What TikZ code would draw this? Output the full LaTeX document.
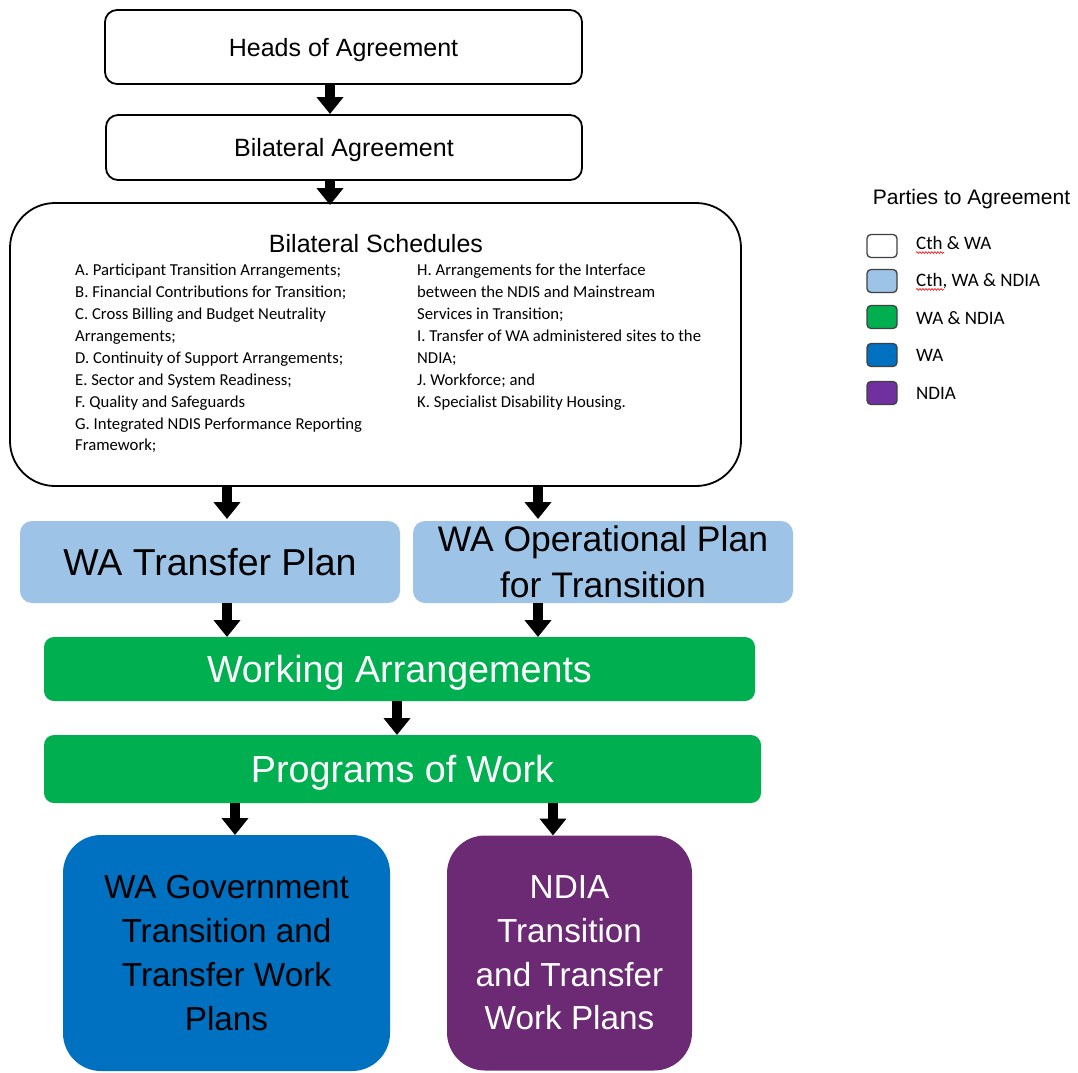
\documentclass[tikz,border=0pt]{standalone}
\usepackage{fontspec}
\setmainfont{Liberation Sans}
\newfontfamily\calibrifont{Carlito}
\usetikzlibrary{arrows.meta,decorations.pathmorphing}

\definecolor{planblue}{HTML}{9DC3E6}
\definecolor{workgreen}{HTML}{00B050}
\definecolor{wablue}{HTML}{0070C0}
\definecolor{ndiapurple}{HTML}{7030A0}
\definecolor{ndiabox}{HTML}{6C2A75}

\tikzset{
  outlinebox/.style={draw=black, line width=1.8pt, fill=white, rounded corners=12pt,
    inner sep=0pt, outer sep=0pt},
  plainbox/.style={draw=none, rounded corners=12pt, inner sep=0pt, outer sep=0pt, align=center},
  oneline/.style={text depth=0pt},
  flowarrow/.style={line width=9.5pt, -{Triangle[width=26pt,length=17pt]}},
  swatch/.style={draw=black!75, line width=1.3pt, rounded corners=4pt,
    minimum width=30pt, minimum height=23pt, inner sep=0pt},
  swatchlabel/.style={anchor=west, inner sep=0pt, font=\calibrifont\fontsize{19}{22}\selectfont},
  listtext/.style={anchor=north west, inner sep=0pt, align=left,
    font=\calibrifont\fontsize{16.7}{21.9}\selectfont},
  spellmark/.style={draw=red, line width=0.6pt, decorate,
    decoration={snake, amplitude=0.9pt, segment length=3pt}}
}

\begin{document}
\begin{tikzpicture}[x=1pt, y=-1pt]
\useasboundingbox (0,0) rectangle (1078,1072);

% agreements
\node[outlinebox, oneline, minimum width=477pt, minimum height=74pt,
  font=\fontsize{25}{30}\selectfont] (heads) at (343.5,47) {Heads of Agreement};
\node[outlinebox, oneline, minimum width=476pt, minimum height=65pt,
  font=\fontsize{25}{30}\selectfont] (bilat) at (344,147.5) {Bilateral Agreement};

% schedules
\node[outlinebox, rounded corners=45pt, minimum width=731pt, minimum height=283pt]
  (sched) at (375.5,344.5) {};
\node[font=\fontsize{25}{30}\selectfont, inner sep=0pt] (schedtitle) at (376,244)
  {Bilateral Schedules};
\node[listtext] (listleft) at (75,264) {%
A. Participant Transition Arrangements;\\
B. Financial Contributions for Transition;\\
C. Cross Billing and Budget Neutrality\\
Arrangements;\\
D. Continuity of Support Arrangements;\\
E. Sector and System Readiness;\\
F. Quality and Safeguards\\
G. Integrated NDIS Performance Reporting\\
Framework;};
\node[listtext] (listright) at (417,264) {%
H. Arrangements for the Interface\\
between the NDIS and Mainstream\\
Services in Transition;\\
I. Transfer of WA administered sites to the\\
NDIA;\\
J. Workforce; and\\
K. Specialist Disability Housing.};

% plans
\node[plainbox, oneline, fill=planblue, minimum width=380pt, minimum height=82pt,
  font=\fontsize{37.5}{46}\selectfont] (transfer) at (210,562) {WA Transfer Plan};
\node[plainbox, fill=planblue, minimum width=380pt, minimum height=82pt,
  font=\fontsize{35.5}{46}\selectfont] (oper) at (603,562)
  {WA Operational Plan\\for Transition};

% working arrangements and programs
\node[plainbox, oneline, fill=workgreen, rounded corners=10pt, minimum width=711pt,
  minimum height=64pt, text=white, font=\fontsize{37.7}{46}\selectfont] (working)
  at (399.5,669) {Working Arrangements};
\node[plainbox, oneline, fill=workgreen, rounded corners=10pt, minimum width=717pt,
  minimum height=68pt, text=white, font=\fontsize{37.7}{46}\selectfont] (programs)
  at (402.5,769) {Programs of Work};

% work plans
\node[plainbox, fill=wablue, rounded corners=38pt, minimum width=327pt, minimum height=236pt,
  font=\fontsize{33.3}{43.7}\selectfont] (wagov) at (226.5,953)
  {WA Government\\Transition and\\Transfer Work\\Plans};
\node[plainbox, fill=ndiabox, rounded corners=38pt, minimum width=245pt, minimum height=235pt,
  text=white, font=\fontsize{33.3}{43.7}\selectfont] (ndia) at (569.5,953)
  {NDIA\\Transition\\and Transfer\\Work Plans};

% arrow columns
\coordinate (ax1) at (330,0);
\coordinate (ax2) at (227,0);
\coordinate (ax3) at (538,0);
\coordinate (ax4) at (397,0);
\coordinate (ax5) at (235,0);
\coordinate (ax6) at (553,0);

\draw[flowarrow] ([yshift=-1pt]heads.south -| ax1) -- ([yshift=1pt]bilat.north -| ax1);
\draw[flowarrow] ([yshift=-1pt]bilat.south -| ax1) -- ([yshift=-2pt]sched.north -| ax1);
\draw[flowarrow] ([yshift=-1pt]sched.south -| ax2) -- ([yshift=2pt]transfer.north -| ax2);
\draw[flowarrow] ([yshift=-1pt]sched.south -| ax3) -- ([yshift=2pt]oper.north -| ax3);
\draw[flowarrow] (transfer.south -| ax2) -- (working.north -| ax2);
\draw[flowarrow] (oper.south -| ax3) -- (working.north -| ax3);
\draw[flowarrow] (working.south -| ax4) -- (programs.north -| ax4);
\draw[flowarrow] (programs.south -| ax5) -- (wagov.north -| ax5);
\draw[flowarrow] (programs.south -| ax6) -- (ndia.north -| ax6);

% legend
\node[oneline, font=\fontsize{21}{25}\selectfont, inner sep=0pt] (legtitle) at (971.5,197)
  {Parties to Agreement};
\node[swatch, fill=white] (sw1) at (882,246) {};
\node[swatch, fill=planblue] (sw2) at (882,281) {};
\node[swatch, fill=workgreen] (sw3) at (882,317) {};
\node[swatch, fill=wablue] (sw4) at (882,355) {};
\node[swatch, fill=ndiapurple] (sw5) at (882,393) {};
\node[swatchlabel] (lab1) at (916,243) {Cth \& WA};
\node[swatchlabel] (lab2) at (916,281) {Cth, WA \& NDIA};
\node[swatchlabel] (lab3) at (916,318) {WA \& NDIA};
\node[swatchlabel] (lab4) at (916,355) {WA};
\node[swatchlabel] (lab5) at (916,393) {NDIA};
\draw[spellmark] ([yshift=-3pt]lab1.base west) -- ++(28,0);
\draw[spellmark] ([yshift=-3pt]lab2.base west) -- ++(28,0);
\end{tikzpicture}
\end{document}
